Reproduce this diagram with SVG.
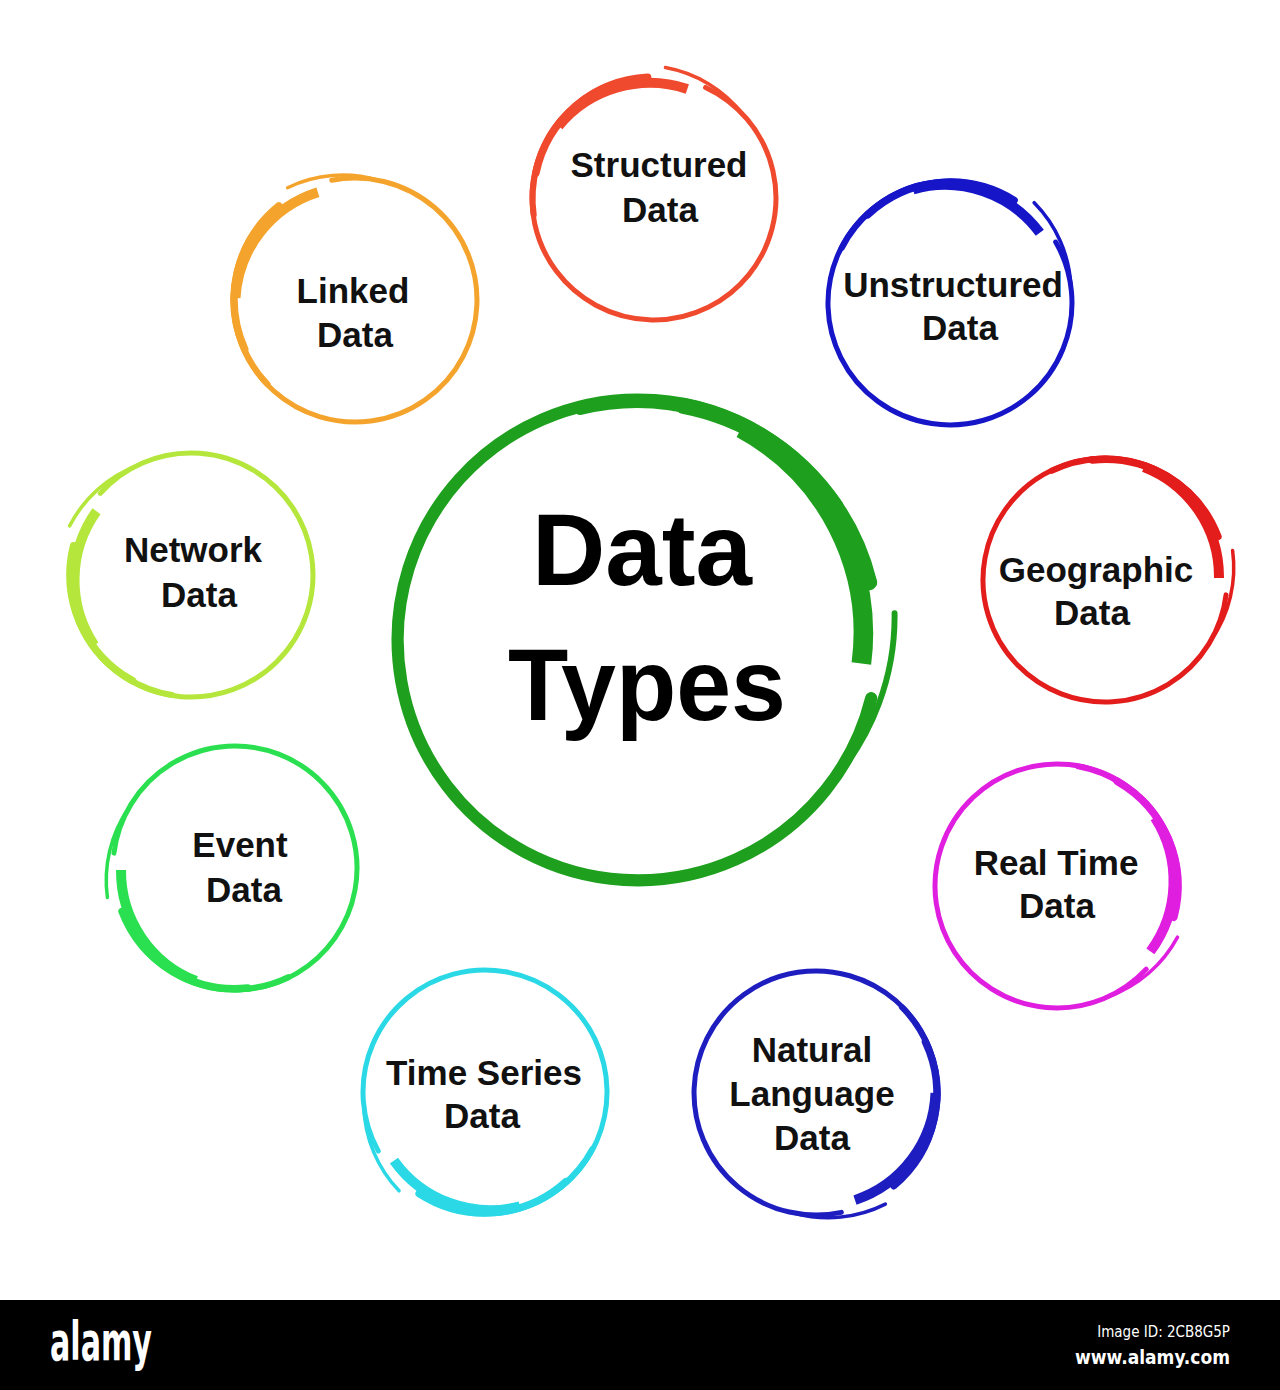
<svg xmlns="http://www.w3.org/2000/svg" xmlns:xlink="http://www.w3.org/1999/xlink" width="1280" height="1390" viewBox="0 0 1280 1390">
<style>
.lbl{font-family:"Liberation Sans",Arial,sans-serif;font-weight:bold;font-size:35px;fill:#111;text-anchor:middle}
.big{font-family:"Liberation Sans",Arial,sans-serif;font-weight:bold;font-size:102px;fill:#000;text-anchor:middle}
.wm{font-family:"Liberation Sans Narrow","DejaVu Sans Condensed",sans-serif;fill:#fff}
</style>
<defs>
<g id="ring">
<path fill="none" stroke-width="5" stroke-linecap="round" d="M 93.5 -78.4 A 122 122 0 1 0 120.8 17"/>
<path fill="none" stroke-width="3.5" stroke-linecap="round" d="M 105.7 61 A 127 127 0 0 0 128.1 -27.2"/>
<path fill="none" stroke-width="6" stroke-linecap="round" d="M 113.7 -41.4 A 121.5 121.5 0 0 0 -51.3 -110.1"/>
<path fill="none" stroke-width="7.5" stroke-linecap="round" d="M 113.7 -41.4 A 120.8 120.8 0 0 0 -10.5 -120.3"/>
<path fill="none" stroke-width="10" stroke-linecap="butt" d="M 114 0 A 118 118 0 0 0 40.9 -112.3"/>
</g>
<g id="bigring">
<path fill="none" stroke-width="6.2" stroke-linecap="round" d="M 93.5 -78.4 A 122 122 0 1 0 120.8 17"/>
<path fill="none" stroke-width="3" stroke-linecap="round" d="M 105.7 61 A 127 127 0 0 0 128.1 -27.2"/>
<path fill="none" stroke-width="7" stroke-linecap="round" d="M 113.7 -41.4 A 121.4 121.4 0 0 0 -41.5 -114"/>
<path fill="none" stroke-width="8" stroke-linecap="round" d="M 113.7 -41.4 A 121 121 0 0 0 10.5 -120.5"/>
<path fill="none" stroke-width="10" stroke-linecap="butt" d="M 114 0 A 118 118 0 0 0 40.9 -112.3"/>
</g>
</defs>
<rect width="1280" height="1390" fill="#fff"/>

<g id="connectors"></g>

<g id="center">
<use xlink:href="#bigring" href="#bigring" transform="translate(638,640) rotate(6) scale(1.97)" stroke="#1ea01e"/>
<text class="big" x="642" y="585" textLength="220" lengthAdjust="spacingAndGlyphs">Data</text>
<text class="big" x="647" y="720" textLength="278" lengthAdjust="spacingAndGlyphs">Types</text>
</g>

<g id="structured">
<use xlink:href="#ring" href="#ring" transform="translate(654,198) rotate(-73)" stroke="#f04a2e"/>
<text class="lbl" x="659" y="177">Structured</text>
<text class="lbl" x="660" y="222">Data</text>
</g>

<g id="unstructured">
<use xlink:href="#ring" href="#ring" transform="translate(950,303) rotate(-38)" stroke="#1616c8"/>
<text class="lbl" x="953" y="297">Unstructured</text>
<text class="lbl" x="960" y="340">Data</text>
</g>

<g id="geographic">
<use xlink:href="#ring" href="#ring" transform="translate(1105,580) rotate(-1)" stroke="#e31c1c"/>
<text class="lbl" x="1096" y="582">Geographic</text>
<text class="lbl" x="1092" y="625">Data</text>
</g>

<g id="realtime">
<use xlink:href="#ring" href="#ring" transform="translate(1057,886) rotate(35)" stroke="#e01ee0"/>
<text class="lbl" x="1056" y="875">Real Time</text>
<text class="lbl" x="1057" y="918">Data</text>
</g>

<g id="naturallanguage">
<use xlink:href="#ring" href="#ring" transform="translate(816,1093) rotate(70)" stroke="#1e1ec0"/>
<text class="lbl" x="812" y="1062">Natural</text>
<text class="lbl" x="812" y="1106">Language</text>
<text class="lbl" x="812" y="1150">Data</text>
</g>

<g id="timeseries">
<use xlink:href="#ring" href="#ring" transform="translate(485,1092) rotate(143)" stroke="#2ad8e6"/>
<text class="lbl" x="484" y="1085">Time Series</text>
<text class="lbl" x="482" y="1128">Data</text>
</g>

<g id="event">
<use xlink:href="#ring" href="#ring" transform="translate(235,868) rotate(179)" stroke="#2ae050"/>
<text class="lbl" x="240" y="857">Event</text>
<text class="lbl" x="244" y="902">Data</text>
</g>

<g id="network">
<use xlink:href="#ring" href="#ring" transform="translate(191,575) rotate(214)" stroke="#b4e63c"/>
<text class="lbl" x="193" y="562">Network</text>
<text class="lbl" x="199" y="607">Data</text>
</g>

<g id="linked">
<use xlink:href="#ring" href="#ring" transform="translate(355,300) rotate(251)" stroke="#f4a42c"/>
<text class="lbl" x="353" y="303">Linked</text>
<text class="lbl" x="355" y="347">Data</text>
</g>

<g id="watermark">
<rect x="0" y="1300" width="1280" height="90" fill="#000"/>
<text class="wm" x="50" y="1360" font-size="54" font-weight="bold" textLength="102" lengthAdjust="spacingAndGlyphs">alamy</text>
<text class="wm" x="1230" y="1337" font-size="15" text-anchor="end">Image ID: 2CB8G5P</text>
<text class="wm" x="1230" y="1364" font-size="19" font-weight="bold" text-anchor="end">www.alamy.com</text>
</g>
</svg>
